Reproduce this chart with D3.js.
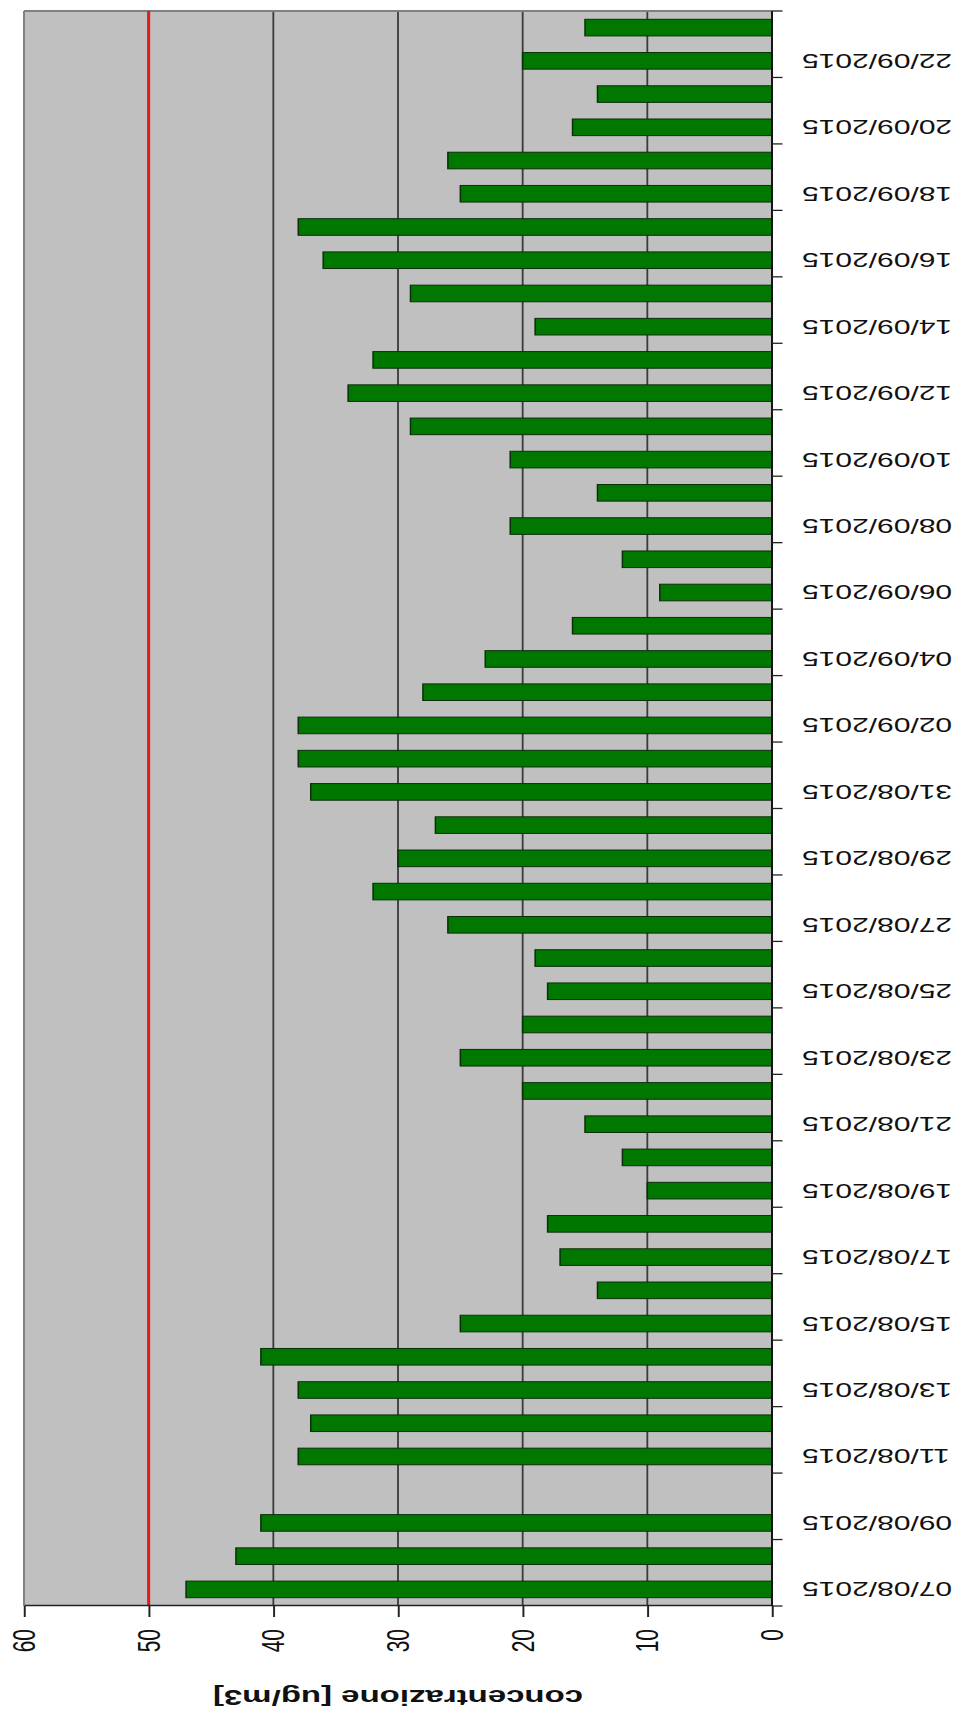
<!DOCTYPE html>
<html>
<head>
<meta charset="utf-8">
<script src="https://cdn.jsdelivr.net/npm/d3@7"></script>
<style>
  html, body { margin: 0; padding: 0; background: #fff; }
  svg { display: block; }
</style>
</head>
<body>
<svg id="chart" width="960" height="1718"></svg>
<script>
// Daily concentration readings, 7 Aug – 23 Sep 2015 (null = no reading)
const giorni = [
  "07/08/2015","08/08/2015","09/08/2015","10/08/2015","11/08/2015","12/08/2015",
  "13/08/2015","14/08/2015","15/08/2015","16/08/2015","17/08/2015","18/08/2015",
  "19/08/2015","20/08/2015","21/08/2015","22/08/2015","23/08/2015","24/08/2015",
  "25/08/2015","26/08/2015","27/08/2015","28/08/2015","29/08/2015","30/08/2015",
  "31/08/2015","01/09/2015","02/09/2015","03/09/2015","04/09/2015","05/09/2015",
  "06/09/2015","07/09/2015","08/09/2015","09/09/2015","10/09/2015","11/09/2015",
  "12/09/2015","13/09/2015","14/09/2015","15/09/2015","16/09/2015","17/09/2015",
  "18/09/2015","19/09/2015","20/09/2015","21/09/2015","22/09/2015","23/09/2015"
];
const concentrazione = [
  47, 43, 41, null, 38, 37,
  38, 41, 25, 14, 17, 18,
  10, 12, 15, 20, 25, 20,
  18, 19, 26, 32, 30, 27,
  37, 38, 38, 28, 23, 16,
  9, 12, 21, 14, 21, 29,
  34, 32, 19, 29, 36, 38,
  25, 26, 16, 14, 20, 15
];
const tickValori = [0, 10, 20, 30, 40, 50, 60];
const valoreLimite = 50;
const titoloAsse = "concentrazione [ug/m3]";

const W = 960, H = 1718;
const stretch = 1.5;               // horizontal stretch of the rotated sheet
const font = "'Liberation Sans', Arial, sans-serif";

const svg = d3.select("#chart");
svg.append("rect").attr("width", W).attr("height", H).attr("fill", "#fff");

// The column chart is laid out in its own frame, then turned a quarter-turn
// counter-clockwise onto the page.
const g = svg.append("g")
  .attr("transform", `matrix(0,-1,${stretch},0,0,${H})`);

const plot = { left: 112, right: 1707, top: 16, bottom: 514.67 };

const x = d3.scaleBand()
  .domain(giorni)
  .range([plot.left, plot.right])
  .paddingInner(0.5)
  .paddingOuter(0.25);

const y = d3.scaleLinear()
  .domain([0, 60])
  .range([plot.bottom, plot.top]);

// plot background
g.append("rect")
  .attr("x", plot.left).attr("y", plot.top)
  .attr("width", plot.right - plot.left)
  .attr("height", plot.bottom - plot.top)
  .attr("fill", "#c0c0c0");

// gridlines
g.append("g").selectAll("line")
  .data(tickValori.filter(v => v > 0 && v < 60))
  .join("line")
  .attr("x1", plot.left).attr("x2", plot.right)
  .attr("y1", d => y(d)).attr("y2", d => y(d))
  .attr("stroke", "#3a3a3a")
  .attr("stroke-width", 1.2);

// plot frame (top and far side)
g.append("line")
  .attr("x1", plot.left).attr("x2", plot.right)
  .attr("y1", plot.top).attr("y2", plot.top)
  .attr("stroke", "#808080").attr("stroke-width", 1.3);
g.append("line")
  .attr("x1", plot.right).attr("x2", plot.right)
  .attr("y1", plot.top).attr("y2", plot.bottom)
  .attr("stroke", "#808080").attr("stroke-width", 2);

// bars
const rows = giorni.map((d, i) => ({ giorno: d, valore: concentrazione[i] }))
  .filter(r => r.valore !== null);

g.append("g").selectAll("rect")
  .data(rows)
  .join("rect")
  .attr("x", d => x(d.giorno))
  .attr("width", x.bandwidth())
  .attr("y", d => y(d.valore))
  .attr("height", d => y(0) - y(d.valore))
  .attr("fill", "#007800")
  .attr("stroke", "#0b2e0b")
  .attr("stroke-width", 1);

// limit value line
g.append("line")
  .attr("x1", plot.left).attr("x2", plot.right)
  .attr("y1", y(valoreLimite)).attr("y2", y(valoreLimite))
  .attr("stroke", "#e3191c")
  .attr("stroke-width", 2);

// value axis
const asseY = g.append("g")
  .attr("transform", `translate(${plot.left},0)`)
  .call(d3.axisLeft(y).tickValues(tickValori).tickSize(11).tickSizeOuter(0).tickPadding(12));
asseY.select(".domain").attr("stroke", "#222").attr("stroke-width", 1.6);
asseY.selectAll(".tick line").attr("stroke", "#222").attr("stroke-width", 1.3);
asseY.selectAll(".tick text")
  .attr("font-family", font)
  .attr("font-size", 21)
  .attr("fill", "#111");

// category axis
g.append("line")
  .attr("x1", plot.left).attr("x2", plot.right)
  .attr("y1", plot.bottom).attr("y2", plot.bottom)
  .attr("stroke", "#111").attr("stroke-width", 1.3);

const confini = d3.range(0, giorni.length + 1, 2).map(i => plot.left + i * x.step());
g.append("g").selectAll("line")
  .data(confini)
  .join("line")
  .attr("x1", d => d).attr("x2", d => d)
  .attr("y1", plot.bottom).attr("y2", plot.bottom + 7)
  .attr("stroke", "#222").attr("stroke-width", 1.3);

g.append("g").selectAll("text")
  .data(giorni.filter((d, i) => i % 2 === 0))
  .join("text")
  .attr("transform", d => `translate(${x(d) + x.bandwidth() / 2},${plot.bottom + 20}) rotate(-90)`)
  .attr("text-anchor", "end")
  .attr("dy", "0.35em")
  .attr("font-family", font)
  .attr("font-size", 20)
  .attr("fill", "#111")
  .text(d => d);

// axis title
g.append("text")
  .attr("transform", `translate(28,${(plot.top + plot.bottom) / 2}) rotate(-90)`)
  .attr("text-anchor", "middle")
  .attr("font-family", font)
  .attr("font-size", 22)
  .attr("font-weight", "bold")
  .attr("fill", "#111")
  .text(titoloAsse);
</script>
</body>
</html>
